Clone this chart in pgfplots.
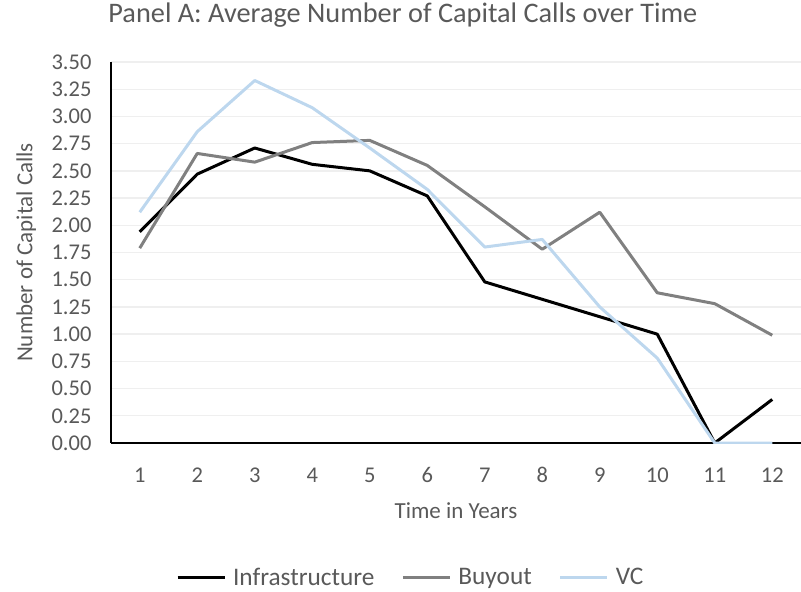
\documentclass[border=0pt]{standalone}
\usepackage{pgfplots}
\pgfplotsset{compat=1.18}
\usepackage{fontspec}
\setmainfont{Carlito}
\definecolor{txt}{HTML}{595959}
\definecolor{buy}{HTML}{808080}
\definecolor{vc}{HTML}{BDD7EE}
\definecolor{gridc}{HTML}{EFEFEF}
\begin{document}
\begin{tikzpicture}
\useasboundingbox (-111pt,-149pt) rectangle (690pt,443pt);
\begin{axis}[
  scale only axis, width=690pt, height=381pt,
  xmin=0.5, xmax=12.5, ymin=0, ymax=3.5,
  xtick={1,2,3,4,5,6,7,8,9,10,11,12},
  ytick={0,0.25,0.5,0.75,1,1.25,1.5,1.75,2,2.25,2.5,2.75,3,3.25,3.5},
  /pgf/number format/assume math mode=true,
  yticklabel={\pgfmathprintnumber[fixed,fixed zerofill,precision=2]{\tick}},
  major tick length=0pt,
  axis lines*=left,
  axis line style={black, line width=1.3pt},
  ymajorgrids, grid style={gridc, line width=1.3pt},
  tick label style={font=\fontsize{22.5}{26}\selectfont, text=txt},
  yticklabel style={xshift=-16pt},
  xticklabel style={anchor=base, yshift=-39pt},
  xlabel={Time in Years}, ylabel={Number of Capital Calls},
  every axis x label/.style={at={(axis description cs:0.5,0)}, anchor=base, yshift=-75pt,
    font=\fontsize{23}{27}\selectfont, text=txt},
  every axis y label/.style={at={(axis description cs:-0.123,0.5)}, rotate=90, anchor=center,
    font=\fontsize{23}{27}\selectfont, text=txt},
  title={Panel A: Average Number of Capital Calls over Time},
  title style={at={(axis description cs:0.423,1.088)}, anchor=base, font=\fontsize{28.3}{32}\selectfont, text=txt},
  legend columns=-1,
  legend style={at={(axis description cs:0.438,-0.352)}, anchor=center, draw=none, fill=none,
    font=\fontsize{25.3}{29}\selectfont, text=txt,
    nodes={inner xsep=7pt},
    /tikz/every even column/.append style={column sep=20pt}},
  legend image code/.code={\draw[#1] (0pt,0pt) -- (47pt,0pt);},
  every axis plot/.append style={line width=3pt, line join=round},
]
\addplot[black] coordinates {(1,1.94) (2,2.47) (3,2.71) (4,2.56) (5,2.50) (6,2.27) (7,1.48) (8,1.32) (9,1.16) (10,1.00) (11,0) (12,0.40)};
\addlegendentry{Infrastructure}
\addplot[buy] coordinates {(1,1.79) (2,2.66) (3,2.58) (4,2.76) (5,2.78) (6,2.55) (7,2.17) (8,1.78) (9,2.12) (10,1.38) (11,1.28) (12,0.99)};
\addlegendentry{Buyout}
\addplot[vc] coordinates {(1,2.12) (2,2.86) (3,3.33) (4,3.08) (5,2.71) (6,2.33) (7,1.80) (8,1.87) (9,1.25) (10,0.78) (11,0) (12,0)};
\addlegendentry{VC}
\end{axis}
\end{tikzpicture}
\end{document}
